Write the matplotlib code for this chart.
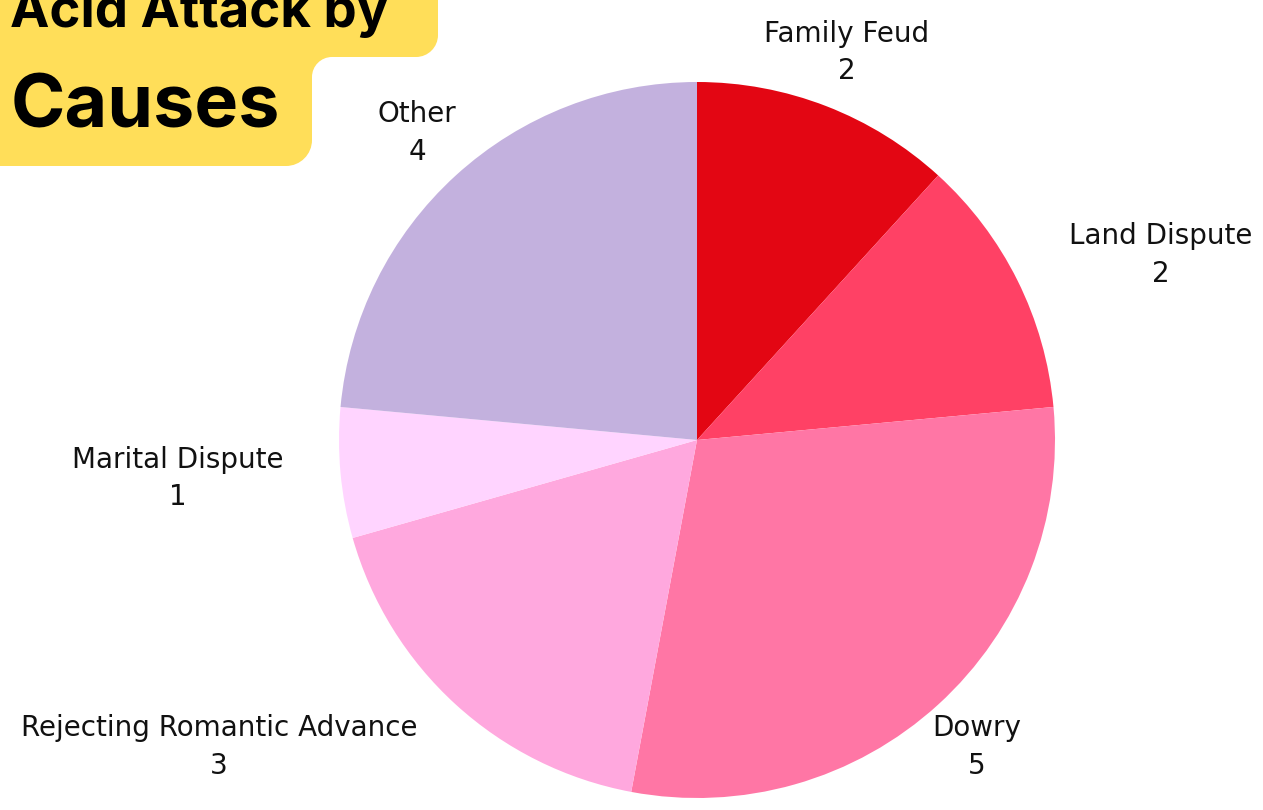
import numpy as np
import matplotlib
matplotlib.use("Agg")
import matplotlib.pyplot as plt
from matplotlib.path import Path
from matplotlib.patches import PathPatch

causes = ["Family Feud", "Land Dispute", "Dowry",
          "Rejecting Romantic Advance", "Marital Dispute", "Other"]
counts = [2, 2, 5, 3, 1, 4]
colors = ["#E30613", "#FF4165", "#FF76A5", "#FFA8DE", "#FFD4FF", "#C3B1DE"]
label_ha = ["center", "left", "center", "right", "right", "center"]

W, H = 1263, 810
fig = plt.figure(figsize=(W / 100, H / 100), dpi=100)
ax = fig.add_axes([0, 0, 1, 1])

cx, cy, r = 697, H - 440, 358
wedges, _ = ax.pie(counts, colors=colors, startangle=90, counterclock=False,
                   center=(cx, cy), radius=r,
                   wedgeprops=dict(linewidth=0))

for w, name, n, ha in zip(wedges, causes, counts, label_ha):
    mid = np.deg2rad((w.theta1 + w.theta2) / 2)
    x = cx + 1.16 * r * np.cos(mid)
    y = cy + 1.16 * r * np.sin(mid)
    ax.text(x, y, f"{name}\n{n}", ha=ha, va="center", ma="center",
            fontsize=20, color="#111111", linespacing=1.42,
            family="DejaVu Sans")


def yp(v):
    return H - v


# title badge (stepped, rounded corners)
k = 0.5523
verts = [(-10, yp(-10)), (438, yp(-10)), (438, yp(35)),
         (438, yp(35 + 22 * k)), (416 + 22 * k, yp(57)), (416, yp(57)),
         (332, yp(57)),
         (332 - 20 * k, yp(57)), (312, yp(77 - 20 * k)), (312, yp(77)),
         (312, yp(140)),
         (312, yp(140 + 26 * k)), (286 + 26 * k, yp(166)), (286, yp(166)),
         (-10, yp(166)), (-10, yp(-10))]
codes = [Path.MOVETO, Path.LINETO, Path.LINETO,
         Path.CURVE4, Path.CURVE4, Path.CURVE4,
         Path.LINETO,
         Path.CURVE4, Path.CURVE4, Path.CURVE4,
         Path.LINETO,
         Path.CURVE4, Path.CURVE4, Path.CURVE4,
         Path.LINETO, Path.CLOSEPOLY]
ax.add_patch(PathPatch(Path(verts, codes), facecolor="#FFDE59",
                       edgecolor="none", zorder=3))
ax.text(10, yp(27), "Acid Attack by", ha="left", va="baseline",
        fontsize=38, fontweight="bold", family="Inter", color="black", zorder=4)
ax.text(11, yp(128), "Causes", ha="left", va="baseline",
        fontsize=53, fontweight="bold", family="Inter", color="black", zorder=4)

ax.set_xlim(0, W)
ax.set_ylim(0, H)
ax.set_aspect("equal")
ax.axis("off")
fig.savefig("out.png", dpi=100, facecolor="white")
